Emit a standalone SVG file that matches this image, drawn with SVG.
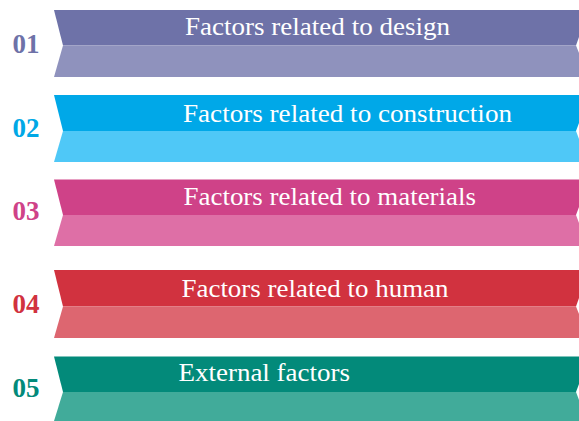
<svg xmlns="http://www.w3.org/2000/svg" width="579" height="421" viewBox="0 0 579 421">
  <style>
    .num { font-family: "Liberation Serif", "Times New Roman", serif; font-weight: bold; font-size: 27px; }
    .lbl { font-family: "Liberation Serif", "Times New Roman", serif; font-size: 25px; fill: #ffffff; }
    .edge { fill: none; stroke: #ffffff; stroke-opacity: 0.35; stroke-width: 1; }
  </style>
  <rect width="579" height="421" fill="#ffffff"/>

  <!-- band 01 -->
  <g id="band-01">
    <polygon points="54,10 579,10 579,37 576,45.5 63,45.5" fill="#6e72a8"/>
    <polygon points="63,45.5 576,45.5 579,53 579,77 54,77" fill="#8f92bd"/>
    <text class="num" x="12.5" y="53" fill="#6e72a8">01</text>
    <text class="lbl" x="185" y="34.5" textLength="265" lengthAdjust="spacingAndGlyphs">Factors related to design</text>
  </g>

  <!-- band 02 -->
  <g id="band-02">
    <polygon points="54,95 579,95 579,123 576,131 63,131" fill="#00a8e8"/>
    <polygon points="63,131 576,131 579,139 579,162 54,162" fill="#4fc8f7"/>
    <text class="num" x="12.5" y="136.5" fill="#00a8e6">02</text>
    <text class="lbl" x="183" y="121.5" textLength="329" lengthAdjust="spacingAndGlyphs">Factors related to construction</text>
  </g>

  <!-- band 03 -->
  <g id="band-03">
    <polygon points="54,179.5 579,179.5 579,207 576,215 63,215" fill="#cf4288"/>
    <polygon points="63,215 576,215 579,223 579,246 54,246" fill="#de6fa6"/>
    <text class="num" x="12.5" y="220" fill="#cf4288">03</text>
    <text class="lbl" x="183.5" y="205.3" textLength="292.5" lengthAdjust="spacingAndGlyphs">Factors related to materials</text>
  </g>

  <!-- band 04 -->
  <g id="band-04">
    <polygon points="54,270 579,270 579,298 576,306.5 63,306.5" fill="#d1323f"/>
    <polygon points="63,306.5 576,306.5 579,314 579,338 54,338" fill="#dd6670"/>
    <text class="num" x="12.5" y="312.5" fill="#d1323f">04</text>
    <text class="lbl" x="181.5" y="297.3" textLength="267" lengthAdjust="spacingAndGlyphs">Factors related to human</text>
  </g>

  <!-- band 05 -->
  <g id="band-05">
    <polygon points="54,356.5 579,356.5 579,384 576,392 63,392" fill="#038a7a"/>
    <polygon points="63,392 576,392 579,400 579,421 54,421" fill="#41ab9a"/>
    <text class="num" x="12.5" y="397" fill="#038a7a">05</text>
    <text class="lbl" x="178.5" y="381" textLength="171.5" lengthAdjust="spacingAndGlyphs">External factors</text>
  </g>

  <g id="connectors"/>
</svg>
